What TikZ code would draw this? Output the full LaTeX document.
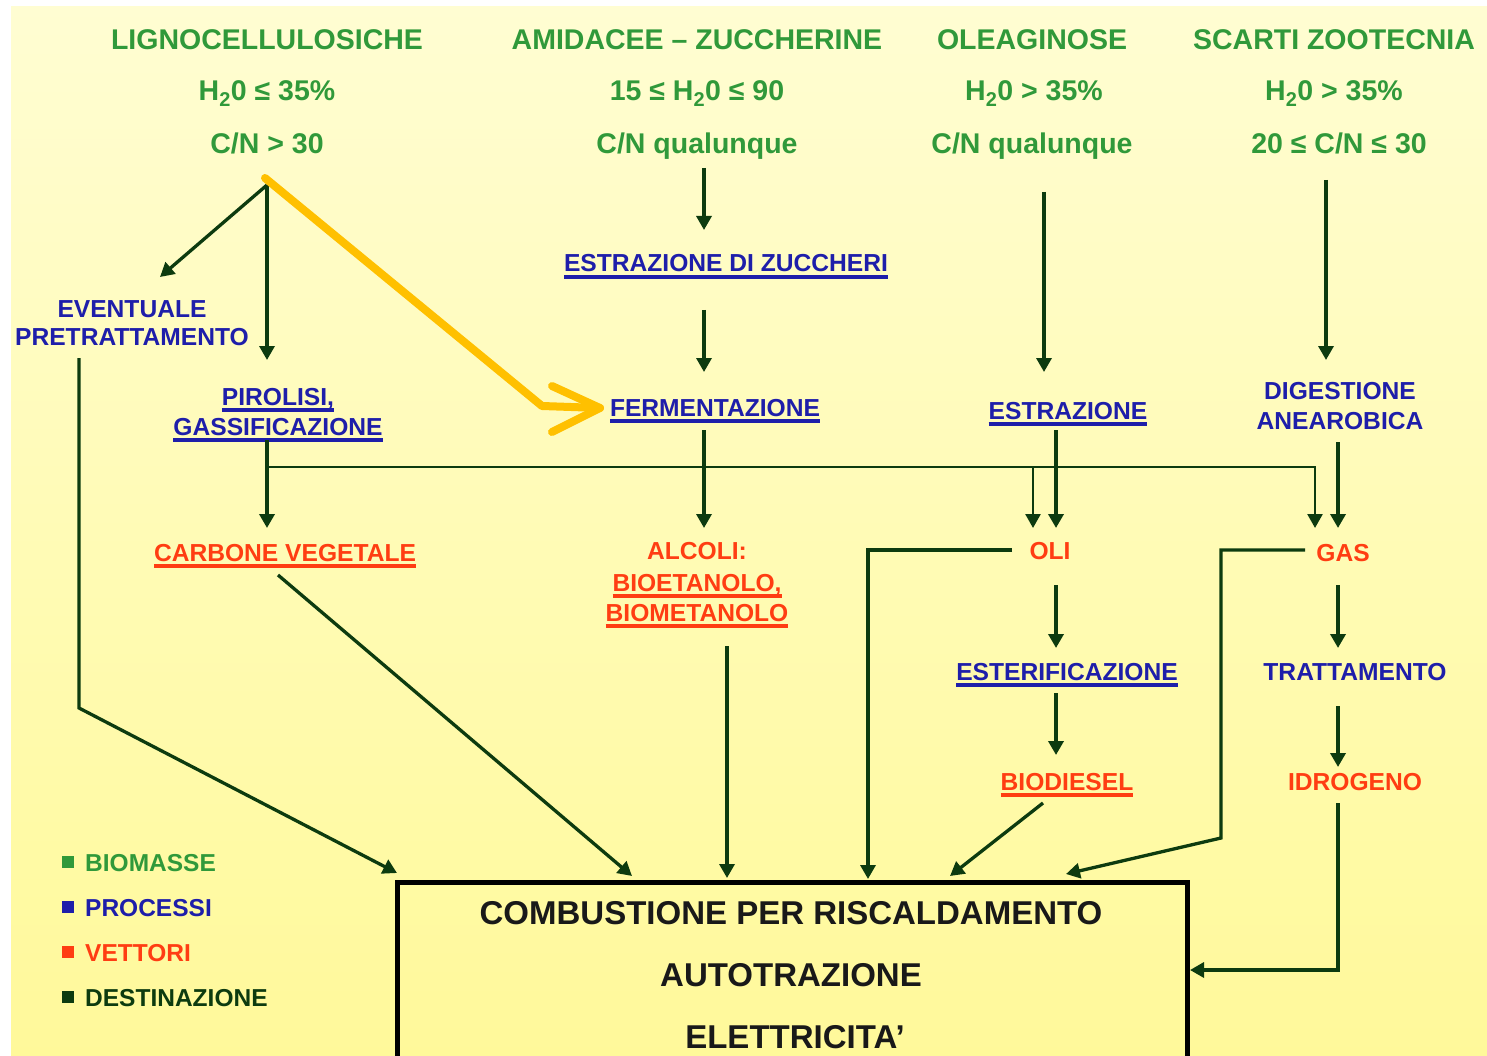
\documentclass[tikz,border=0pt]{standalone}
\usepackage{fontspec}
\setmainfont{Liberation Sans}
\usetikzlibrary{arrows.meta,calc}
\definecolor{hg}{HTML}{30993A}
\definecolor{pb}{HTML}{1E1EAA}
\definecolor{vr}{HTML}{FF3D12}
\definecolor{dg}{HTML}{0D3B0F}
\definecolor{yo}{HTML}{FFC000}
\definecolor{bgtop}{HTML}{FFFDD2}
\definecolor{bgbot}{HTML}{FFF99A}
\newcommand\uln[1]{\leavevmode\setbox0\hbox{#1}\rlap{\rule[-7pt]{\wd0}{4pt}}\box0}
\begin{document}
\begin{tikzpicture}[x=1pt,y=-1pt,
  every node/.style={inner sep=0pt,anchor=base},
  hdr/.style={text=hg,font=\fontsize{28.5}{32}\selectfont\bfseries},
  proc/.style={text=pb,font=\fontsize{24.6}{28}\selectfont\bfseries},
  vet/.style={text=vr,font=\fontsize{24.6}{28}\selectfont\bfseries},
  dst/.style={text=black!90,font=\fontsize{33}{36}\selectfont\bfseries},
  leg/.style={font=\fontsize{24.5}{28}\selectfont\bfseries,anchor=base west},
  sq/.style={minimum size=12pt,anchor=center},
  arr/.style={draw=dg,line width=3.3pt,-{Triangle[width=15pt,length=14pt]}},
  thk/.style={arr,line width=4.2pt},
  ln/.style={draw=dg,line width=2.6pt}]
\useasboundingbox (0,0) rectangle (1487,1056);
\fill[white] (0,0) rectangle (1487,1056);
\shade[top color=bgtop,bottom color=bgbot] (11,7) rectangle (1487,1056);

% headers
\node[hdr] (h1) at (267,50) {LIGNOCELLULOSICHE};
\node[hdr] (w1) at (267,101) {H\textsubscript{2}0 ≤ 35\%};
\node[hdr] (cn1) at (267,154) {C/N > 30};
\node[hdr] (h2) at (697,50) {AMIDACEE – ZUCCHERINE};
\node[hdr] (w2) at (697,101) {15 ≤ H\textsubscript{2}0 ≤ 90};
\node[hdr] (cn2) at (697,154) {C/N qualunque};
\node[hdr] (h3) at (1032,50) {OLEAGINOSE};
\node[hdr] (w3) at (1034,101) {H\textsubscript{2}0 > 35\%};
\node[hdr] (cn3) at (1032,154) {C/N qualunque};
\node[hdr] (h4) at (1334,50) {SCARTI ZOOTECNIA};
\node[hdr] (w4) at (1334,101) {H\textsubscript{2}0 > 35\%};
\node[hdr] (cn4) at (1339,154) {20 ≤ C/N ≤ 30};

% processes
\node[proc] (evt1) at (132,317) {EVENTUALE};
\node[proc] (evt2) at (132,345) {PRETRATTAMENTO};
\node[proc] (pir1) at (278,405) {\uln{PIROLISI,}};
\node[proc] (pir2) at (278,435) {\uln{GASSIFICAZIONE}};
\node[proc] (ezu) at (726,272) {\uln{ESTRAZIONE DI ZUCCHERI}};
\node[proc] (fer) at (715,416) {\uln{FERMENTAZIONE}};
\node[proc] (est) at (1068,419) {\uln{ESTRAZIONE}};
\node[proc] (dig1) at (1340,399) {DIGESTIONE};
\node[proc] (dig2) at (1340,429) {ANEAROBICA};
\node[proc] (ester) at (1067,680) {\uln{ESTERIFICAZIONE}};
\node[proc] (tra) at (1355,680) {TRATTAMENTO};

% vectors
\node[vet] (car) at (285,561) {\uln{CARBONE VEGETALE}};
\node[vet] (alc1) at (697,559) {ALCOLI:};
\node[vet] (alc2) at (697,591) {\uln{BIOETANOLO,}};
\node[vet] (alc3) at (697,621) {\uln{BIOMETANOLO}};
\node[vet] (oli) at (1050,559) {OLI};
\node[vet] (gas) at (1343,561) {GAS};
\node[vet] (bio) at (1067,790) {\uln{BIODIESEL}};
\node[vet] (idr) at (1355,790) {IDROGENO};

% destination box
\node[draw=black,line width=5pt,minimum width=790pt,minimum height=200pt,outer sep=0pt,anchor=center] (box) at (792,982) {};
\node[dst] (b1) at (791,924) {COMBUSTIONE PER RISCALDAMENTO};
\node[dst] (b2) at (791,986) {AUTOTRAZIONE};
\node[dst] (b3) at (795,1048) {ELETTRICITA’};

% legend
\node[sq,fill=hg] (s1) at (68,862) {};
\node[sq,fill=pb] (s2) at (68,907) {};
\node[sq,fill=vr] (s3) at (68,952) {};
\node[sq,fill=dg] (s4) at (68,997) {};
\node[leg,text=hg] (l1) at (85,871) {BIOMASSE};
\node[leg,text=pb] (l2) at (85,916) {PROCESSI};
\node[leg,text=vr] (l3) at (85,961) {VETTORI};
\node[leg,text=dg] (l4) at (85,1006) {DESTINAZIONE};

% connectors
\draw[arr] ($(cn1.base)+(0,31)$) -- ($(evt1.base)+(28,-40)$);
\draw[arr] ($(cn1.base)+(0,31)$) -- ($(pir1.base)+(-11,-45)$);
\draw[arr] ($(cn2.base)+(7,14)$) -- ($(ezu.base)+(-22,-42)$);
\draw[arr] ($(ezu.base)+(-22,38)$) -- ($(fer.base)+(-11,-44)$);
\draw[arr] ($(fer.base)+(-11,14)$) -- ($(alc1.base)+(7,-31)$);
\draw[arr] ($(cn3.base)+(12,38)$) -- ($(est.base)+(-24,-47)$);
\draw[arr] ($(cn4.base)+(-13,26)$) -- ($(dig1.base)+(-14,-39)$);
\draw[thk] ($(pir2.base)+(-11,5)$) -- ($(car.base)+(-18,-33)$);
\draw[ln,-{Triangle[width=15pt,length=14pt]}] ($(pir2.base)+(-11,32)$) -| ($(gas.base)+(-28,-33)$);
\draw[ln,-{Triangle[width=15pt,length=14pt]}] ($(oli.base)+(-17,-92)$) -- ($(oli.base)+(-17,-31)$);
\draw[thk] ($(est.base)+(-12,11)$) -- ($(oli.base)+(6,-31)$);
\draw[thk] ($(dig2.base)+(-2,13)$) -- ($(gas.base)+(-5,-33)$);
\draw[arr] ($(oli.base)+(-38,-9)$) -| ($(box.north)+(76,-3)$);
\draw[arr] ($(gas.base)+(-38,-11)$) -- ($(gas.base)+(-122,-11)$) -- ($(gas.base)+(-122,277)$) -- ($(box.north)+(274,-8)$);
\draw[thk] ($(oli.base)+(6,26)$) -- ($(ester.base)+(-11,-32)$);
\draw[thk] ($(ester.base)+(-11,13)$) -- ($(bio.base)+(-11,-35)$);
\draw[arr] ($(bio.base)+(-24,13)$) -- ($(box.north)+(158,-6)$);
\draw[thk] ($(gas.base)+(-5,24)$) -- ($(tra.base)+(-17,-32)$);
\draw[thk] ($(tra.base)+(-17,26)$) -- ($(idr.base)+(-17,-23)$);
\draw[arr] ($(idr.base)+(-17,13)$) |- ($(box.east)+(3,-12)$);
\draw[arr] ($(car.base)+(-7,14)$) -- ($(box.north)+(-160,-6)$);
\draw[arr] ($(alc3.base)+(30,25)$) -- ($(box.north)+(-65,-4)$);
\draw[arr] ($(evt2.base)+(-53,13)$) -- ($(evt2.base)+(-53,363)$) -- ($(box.north west)+(0,-9)$);

% highlighted yellow arrow
\draw[yo,line width=8pt,line cap=round,line join=round]
  ($(cn1.base)+(-2,24)$) -- ($(fer.base)+(-173,-10)$) -- ($(fer.base)+(-115,-8)$);
\draw[yo,line width=8pt,line cap=round,line join=round]
  ($(fer.base)+(-163,-30)$) -- ($(fer.base)+(-115,-8)$) -- ($(fer.base)+(-163,16)$);
\end{tikzpicture}
\end{document}
